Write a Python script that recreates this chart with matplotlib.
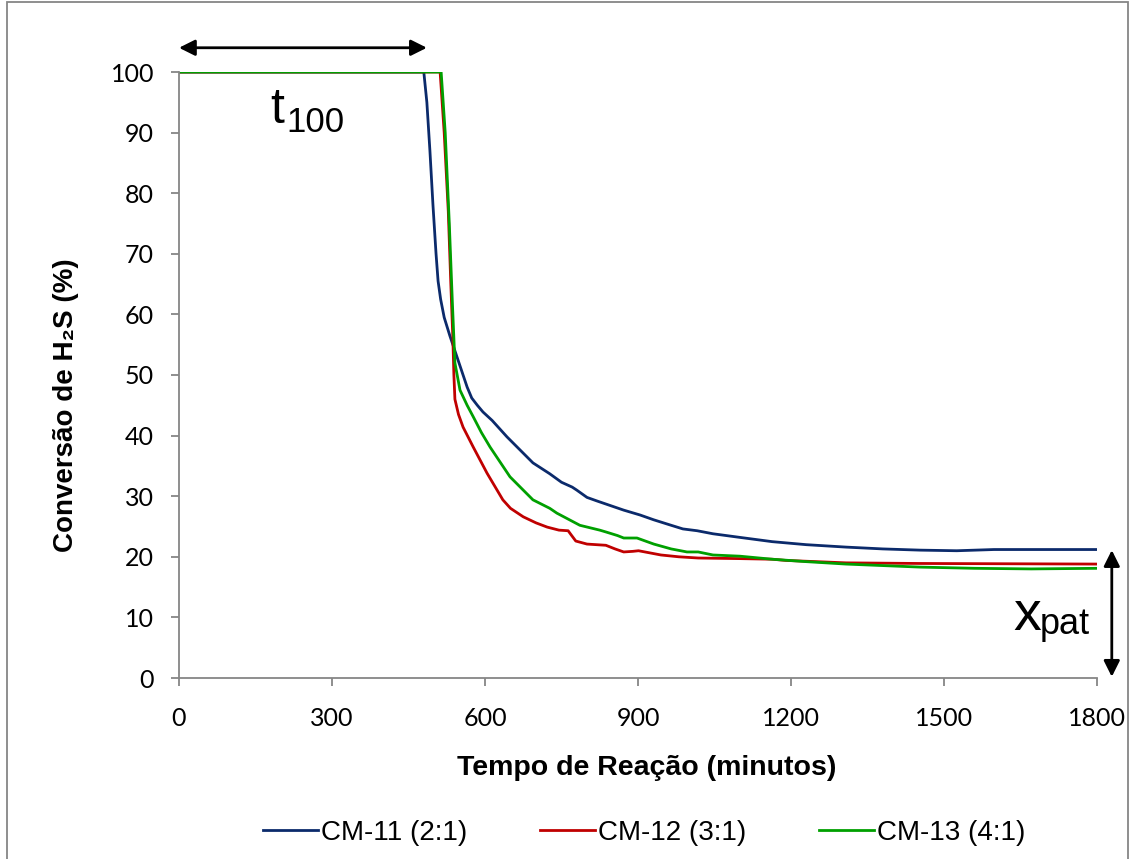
import matplotlib
matplotlib.use('Agg')
import matplotlib.pyplot as plt
from matplotlib.patches import Rectangle

# CM-11 (2:1)
t_cm11 = [0, 480, 486, 492, 498, 504, 508, 513, 520, 531, 545, 565, 574, 585, 596, 614, 643, 694, 727, 750, 771, 780,
          800, 820, 872, 904, 931, 965, 988, 1016, 1047, 1100, 1163, 1230, 1308, 1380, 1453, 1525, 1598, 1700, 1800]
x_cm11 = [100, 100, 95, 87, 78, 70, 65.5, 62.5, 59.5, 56.5, 53, 48, 46.2, 45, 43.9, 42.5, 39.8, 35.5, 33.7, 32.3, 31.5, 31,
          29.8, 29.2, 27.7, 26.9, 26.1, 25.2, 24.6, 24.3, 23.8, 23.2, 22.5, 22.0, 21.6, 21.3, 21.1, 21.0, 21.2, 21.2, 21.2]

# CM-12 (3:1)
t_cm12 = [0, 512, 520, 528, 533, 537, 539, 541, 548, 557, 577, 604, 635, 650, 675, 700, 722, 745, 763, 770, 778, 800,
          837, 855, 872, 890, 901, 945, 980, 1018, 1100, 1163, 1190, 1250, 1308, 1450, 1800]
x_cm12 = [100, 100, 90, 77, 65, 56, 50, 46, 43.5, 41.4, 38.1, 33.8, 29.4, 28, 26.6, 25.6, 24.9, 24.4, 24.3, 23.5, 22.6, 22.1,
          21.9, 21.3, 20.8, 20.9, 21.0, 20.3, 20.0, 19.8, 19.7, 19.6, 19.4, 19.2, 19.0, 18.9, 18.8]

# CM-13 (4:1)
t_cm13 = [0, 514, 522, 530, 536, 541, 551, 565, 577, 593, 610, 649, 694, 727, 741, 786, 825, 837, 860, 872, 898, 931,
          965, 996, 1018, 1047, 1100, 1163, 1230, 1308, 1453, 1560, 1671, 1800]
x_cm13 = [100, 100, 90, 75, 62, 52, 47.5, 45, 43.1, 40.5, 38.1, 33.2, 29.4, 28.0, 27.2, 25.2, 24.4, 24.1, 23.5, 23.1, 23.1, 22.1,
          21.3, 20.8, 20.8, 20.3, 20.1, 19.6, 19.2, 18.8, 18.3, 18.1, 18.0, 18.1]

labels = ['CM-11 (2:1)', 'CM-12 (3:1)', 'CM-13 (4:1)']
colors = ['#0B2A6B', '#C00000', '#00A000']

fig = plt.figure(figsize=(11.3, 8.59), dpi=100)
ax = fig.add_axes([179 / 1130, 1 - 678 / 859, 918 / 1130, 606 / 859])

series = [(t_cm11, x_cm11), (t_cm12, x_cm12), (t_cm13, x_cm13)]
for (t, x), lab, c in zip(series, labels, colors):
    ax.plot(t, x, color=c, lw=2, label=lab, solid_joinstyle='round')

ax.set_xlim(0, 1800)
ax.set_ylim(0, 100)
ax.set_xticks(range(0, 1801, 300))
ax.set_yticks(range(0, 101, 10))

for s in ['top', 'right']:
    ax.spines[s].set_visible(False)
for s in ['left', 'bottom']:
    ax.spines[s].set_color('#868686')
    ax.spines[s].set_linewidth(1.3)
ax.tick_params(axis='both', direction='out', length=6, width=1.3, color='#868686', labelsize=18)
ax.tick_params(axis='y', pad=12)
ax.tick_params(axis='x', pad=15)
for lbl in ax.get_xticklabels() + ax.get_yticklabels():
    lbl.set_family('Lato')

fig.text(647 / 1130, 1 - 768 / 859, 'Tempo de Reação (minutos)', ha='center', va='center',
         fontsize=20.5, fontweight='bold', family=['Liberation Sans', 'DejaVu Sans'])
fig.text(66 / 1130, 1 - 405 / 859, 'Conversão de H₂S (%)', ha='center', va='center', rotation=90,
         fontsize=20, fontweight='bold', family=['Liberation Sans', 'DejaVu Sans'])

# annotations
ax.annotate('', xy=(0, 104), xytext=(486, 104), annotation_clip=False,
            arrowprops=dict(arrowstyle='<|-|>', color='black', lw=2, mutation_scale=24, shrinkA=0, shrinkB=0))
ax.annotate('', xy=(1829, 21.1), xytext=(1829, 0.2), annotation_clip=False,
            arrowprops=dict(arrowstyle='<|-|>', color='black', lw=2, mutation_scale=24, shrinkA=0, shrinkB=0))
ax.text(178, 91.6, 't', fontsize=36, family='Liberation Sans', ha='left', va='baseline', clip_on=False)
ax.text(210, 90.1, '100', fontsize=25, family='Liberation Sans', ha='left', va='baseline', clip_on=False)
ax.text(1636, 7.9, 'x', fontsize=40, family='Liberation Sans', ha='left', va='baseline', clip_on=False)
ax.text(1688, 7.2, 'pat', fontsize=26, family='Liberation Sans', ha='left', va='baseline', clip_on=False)

leg = fig.legend(loc='center', bbox_to_anchor=(0.57, 1 - 833 / 859), ncol=3, frameon=False,
                 prop={'family': ['Liberation Sans Narrow', 'Liberation Sans'], 'size': 20},
                 handlelength=2.0, handletextpad=0.1, columnspacing=2.6)

fig.patches.append(Rectangle((7 / 1130, -0.01), 1121 / 1130, 1 - 2 / 859 + 0.01, transform=fig.transFigure,
                             fill=False, edgecolor='#868686', lw=1.3))

fig.savefig('out.png', dpi=100)
